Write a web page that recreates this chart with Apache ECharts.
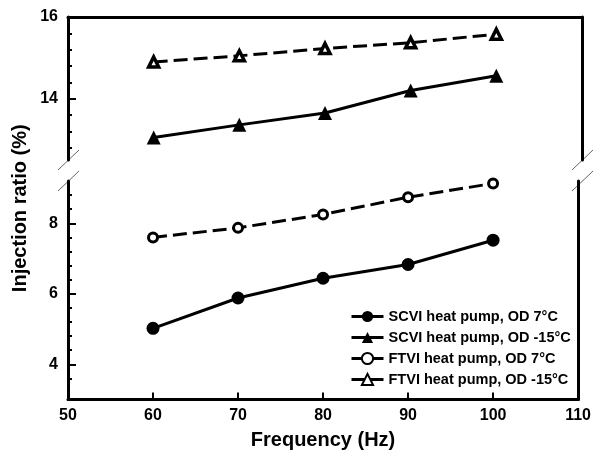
<!DOCTYPE html>
<html>
<head>
<meta charset="utf-8">
<script src="https://cdn.jsdelivr.net/npm/echarts@6/dist/echarts.min.js"></script>
<style>
  html, body { margin: 0; padding: 0; background: #fff; }
  #chart { width: 594px; height: 461px; }
</style>
</head>
<body>
<div id="chart"></div>
<script>
// ---- data ----
const freq = [60, 70, 80, 90, 100];
const scvi7 = [5.02, 5.88, 6.44, 6.83, 7.52];
const scvi15 = [13.05, 13.36, 13.65, 14.2, 14.56];
const ftvi7 = [7.6, 7.87, 8.25, 8.74, 9.13];
const ftvi15 = [14.9, 15.05, 15.23, 15.37, 15.58];
const seriesNames = ['SCVI heat pump, OD 7°C', 'SCVI heat pump, OD -15°C', 'FTVI heat pump, OD 7°C', 'FTVI heat pump, OD -15°C'];
const xTicks = [50, 60, 70, 80, 90, 100, 110];
const upperMajor = [14, 16];
const upperMinor = [12.8, 13.2, 13.6, 14.4, 14.8, 15.2, 15.6];
const lowerMajor = [4, 6, 8];
const lowerMinor = [3.6, 4.4, 4.8, 5.2, 5.6, 6.4, 6.8, 7.2, 7.6, 8.4, 8.8];
const upperRange = [12.5, 16];
const lowerRange = [3, 9.2];
const xRange = [50, 110];

// ---- layout ----
const L = 68, R = 582, T = 17, BRK1 = 160, BRK2 = 181, B = 399.5;
const FONT = '"Liberation Sans", Arial, sans-serif';

const pts = (ys) => freq.map((f, i) => [f, ys[i]]);

const chart = echarts.init(document.getElementById('chart'), null, { renderer: 'canvas' });

const lineAx = { show: true, onZero: false, lineStyle: { color: '#000', width: 3 } };
const noAx = { show: false };

function tickLabel(values, margin) {
  return { show: true, customValues: values, margin: margin, color: '#000',
           fontFamily: FONT, fontWeight: 700, fontSize: 16 };
}

function yMain(gi, rng, major) {
  return {
    type: 'value', gridIndex: gi, position: 'left', min: rng[0], max: rng[1],
    axisLine: lineAx,
    axisTick: { show: true, inside: true, length: 8, lineStyle: { color: '#000', width: 2 }, customValues: major },
    axisLabel: tickLabel(major, 10),
    splitLine: { show: false }
  };
}
function yMinor(gi, rng, minor) {
  return {
    type: 'value', gridIndex: gi, position: 'left', min: rng[0], max: rng[1],
    axisLine: noAx,
    axisTick: { show: true, inside: true, length: 4, lineStyle: { color: '#000', width: 2 }, customValues: minor },
    axisLabel: { show: false },
    splitLine: { show: false }
  };
}
function yRight(gi, rng) {
  return {
    type: 'value', gridIndex: gi, position: 'right', min: rng[0], max: rng[1],
    axisLine: lineAx, axisTick: { show: false }, axisLabel: { show: false }, splitLine: { show: false }
  };
}

const lineSolid = { color: '#000', width: 3, type: 'solid' };
const lineDash = { color: '#000', width: 3, type: [14, 6] };

const option = {
  animation: false,
  backgroundColor: '#fff',
  grid: [
    { left: L, width: R - L, top: T, height: BRK1 - T },
    { left: L, width: R - L, top: BRK2, height: B - BRK2 }
  ],
  xAxis: [
    { type: 'value', gridIndex: 0, position: 'top', min: xRange[0], max: xRange[1], interval: 10,
      axisLine: lineAx, axisTick: { show: false }, axisLabel: { show: false }, splitLine: { show: false } },
    { type: 'value', gridIndex: 1, position: 'bottom', min: xRange[0], max: xRange[1], interval: 10,
      axisLine: lineAx,
      axisTick: { show: true, inside: true, length: 7, lineStyle: { color: '#000', width: 2 }, customValues: xTicks },
      axisLabel: tickLabel(xTicks, 8),
      splitLine: { show: false },
      name: 'Frequency (Hz)', nameLocation: 'middle', nameGap: 31,
      nameTextStyle: { color: '#000', fontFamily: FONT, fontSize: 20, fontWeight: 'bold' } }
  ],
  yAxis: [
    yMain(0, upperRange, upperMajor), yMinor(0, upperRange, upperMinor), yRight(0, upperRange),
    yMain(1, lowerRange, lowerMajor), yMinor(1, lowerRange, lowerMinor), yRight(1, lowerRange)
  ],
  legend: {
    orient: 'vertical', left: 345, top: 304, itemGap: 6, itemWidth: 32, itemHeight: 14,
    data: seriesNames,
    lineStyle: { type: 'solid', width: 3 },
    textStyle: { color: '#000', fontFamily: FONT, fontWeight: 700, fontSize: 14.5 }
  },
  series: [
    { name: seriesNames[0], type: 'line', xAxisIndex: 1, yAxisIndex: 3, data: pts(scvi7),
      symbol: 'circle', symbolSize: 13, lineStyle: lineSolid,
      itemStyle: { color: '#000', borderColor: '#000', borderWidth: 0 } },
    { name: seriesNames[1], type: 'line', xAxisIndex: 0, yAxisIndex: 0, data: pts(scvi15),
      symbol: 'triangle', symbolSize: 14, lineStyle: lineSolid,
      itemStyle: { color: '#000', borderColor: '#000', borderWidth: 0 } },
    { name: seriesNames[2], type: 'line', xAxisIndex: 1, yAxisIndex: 3, data: pts(ftvi7),
      symbol: 'circle', symbolSize: 9, lineStyle: lineDash,
      itemStyle: { color: '#fff', borderColor: '#000', borderWidth: 3 } },
    { name: seriesNames[3], type: 'line', xAxisIndex: 0, yAxisIndex: 0, data: pts(ftvi15),
      symbol: 'triangle', symbolSize: 10, lineStyle: lineDash,
      itemStyle: { color: '#fff', borderColor: '#000', borderWidth: 3.5 } }
  ],
  graphic: [
    { type: 'line', shape: { x1: L - 10, y1: BRK1 + 10, x2: L + 11, y2: BRK1 - 10 }, style: { stroke: '#666', lineWidth: 1 } },
    { type: 'line', shape: { x1: L - 10, y1: BRK2 + 10, x2: L + 11, y2: BRK2 - 10 }, style: { stroke: '#666', lineWidth: 1 } },
    { type: 'line', shape: { x1: R - 10, y1: BRK1 + 10, x2: R + 11, y2: BRK1 - 10 }, style: { stroke: '#666', lineWidth: 1 } },
    { type: 'line', shape: { x1: R - 10, y1: BRK2 + 10, x2: R + 11, y2: BRK2 - 10 }, style: { stroke: '#666', lineWidth: 1 } },
    { type: 'text', x: 20, y: (T + B) / 2, rotation: Math.PI / 2,
      style: { text: 'Injection ratio (%)', fill: '#000', font: 'bold 20px ' + FONT, textAlign: 'center', textVerticalAlign: 'middle' } }
  ]
};
chart.setOption(option);
</script>
</body>
</html>
